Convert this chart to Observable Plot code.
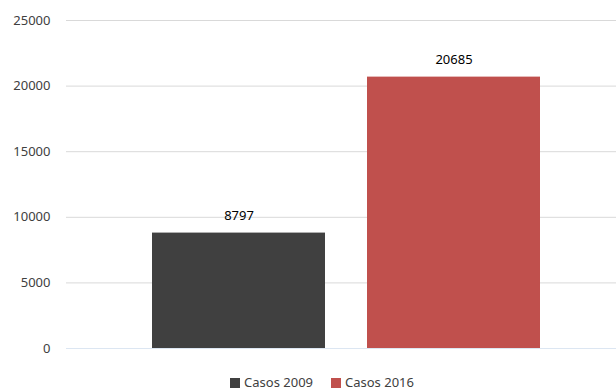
<!DOCTYPE html>
<html>
<head>
<meta charset="utf-8">
<script src="https://cdn.jsdelivr.net/npm/d3@7"></script>
<script src="https://cdn.jsdelivr.net/npm/@observablehq/plot@0.6"></script>
<style>
  html, body { margin: 0; padding: 0; background: #fff; }
  #chart { width: 616px; height: 390px; font-family: "Noto Sans", sans-serif; }
  .legend { display: flex; justify-content: center; align-items: center; gap: 18px; height: 25px; margin-top: 4px; font-size: 13px; color: #404040; padding-left: 28px; }
  .legend span.sw { display: inline-block; width: 10px; height: 10px; margin-right: 4px; vertical-align: -1px; }
</style>
</head>
<body>
<div id="chart"></div>
<script>
const series = ["Casos 2009", "Casos 2016"];
const values = [8797, 20685];
const colors = ["#404040", "#C0504D"];
const yTicks = [0, 5000, 10000, 15000, 20000, 25000];

const data = series.map((s, i) => ({series: s, value: values[i]}));

const plot = Plot.plot({
  width: 616,
  height: 365,
  marginTop: 20,
  marginBottom: 17,
  marginLeft: 66,
  marginRight: 0,
  style: {fontFamily: "Noto Sans, sans-serif", fontSize: "13px", color: "#404040", background: "#fff"},
  x: {domain: series, range: [131, 561], paddingInner: 42 / 215, paddingOuter: 21 / 215, axis: null},
  y: {domain: [0, 25000], ticks: yTicks, label: null},
  color: {domain: series, range: colors},
  marks: [
    Plot.ruleY(yTicks.filter(d => d > 0), {stroke: "#d9d9d9", strokeWidth: 1}),
    Plot.ruleY([0], {stroke: "#dce6f2", strokeWidth: 1}),
    Plot.axisY({ticks: yTicks, tickSize: 0, tickPadding: 16, tickFormat: d => String(d), fontSize: 13, fill: "#404040", label: null}),
    Plot.barY(data, {x: "series", y: "value", fill: "series", style: "filter: drop-shadow(2px 2px 2px rgba(0,0,0,0.3))"}),
    Plot.text(data, {x: "series", y: "value", text: d => String(d.value), dy: -17, fontSize: 13, fill: "#000"})
  ]
});

const chart = document.getElementById("chart");
chart.appendChild(plot);
const legend = document.createElement("div");
legend.className = "legend";
series.forEach((s, i) => {
  const item = document.createElement("div");
  item.innerHTML = `<span class="sw" style="background:${colors[i]}"></span>${s}`;
  legend.appendChild(item);
});
chart.appendChild(legend);
</script>
</body>
</html>
